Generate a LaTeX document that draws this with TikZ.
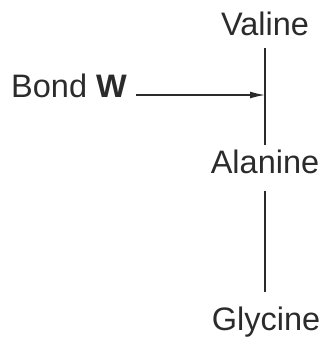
\documentclass[tikz,border=0pt]{standalone}
\usepackage{fontspec}
\setmainfont{Liberation Sans}
\usetikzlibrary{arrows.meta}
\definecolor{ink}{HTML}{2B2B2B}
\begin{document}
\begin{tikzpicture}[x=1pt,y=-1pt,
  label/.style={inner sep=0pt,anchor=base,text=ink,font=\fontsize{32.5}{38}\selectfont},
  bondline/.style={draw=ink,line width=1.4pt},
  pointer/.style={draw=ink,line width=1.4pt,-{Latex[length=15pt,width=7pt]}}]
  \useasboundingbox (0,0) rectangle (327,341);
  % amino acid labels along the chain
  \node[label] (val) at (265,35) {Valine};
  \node[label] (ala) at (265,173) {Alanine};
  \node[label] (gly) at (266,330) {Glycine};
  \node[label,anchor=base west] (bond) at (11,97) {Bond \textbf{W}};
  \coordinate (hit) at (265,95);
  % bonds between residues
  \draw[bondline,shorten <=12pt,shorten >=4pt] (val.south) -- (val.south |- ala.north);
  \draw[bondline,shorten <=17pt,shorten >=14pt] (ala.south) -- (ala.south |- gly.north);
  % pointer to the bond
  \draw[pointer] ([shift={(9,-2)}]bond.base east) -- (hit);
\end{tikzpicture}
\end{document}
